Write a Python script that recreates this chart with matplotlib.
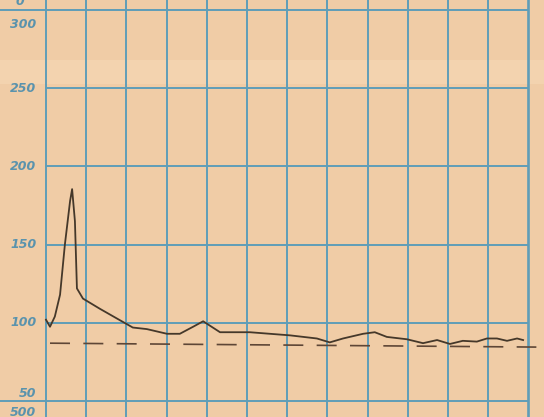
import matplotlib

matplotlib.use("Agg")
import matplotlib.pyplot as plt

# traced curve, x in grid squares from the left border
curve_x = [0, 0.1, 0.22, 0.35, 0.47, 0.6, 0.65, 0.72, 0.77, 0.92, 1.34, 1.92,
           2.16, 2.51, 3.01, 3.33, 3.66, 3.91, 4.03, 4.33, 5.07, 6.07, 6.74,
           7.06, 7.39, 7.89, 8.18, 8.48, 8.98, 9.38, 9.73, 10.05, 10.37,
           10.72, 10.97, 11.22, 11.47, 11.72, 11.87]
curve_y = [102, 97.5, 104, 118, 150, 178, 185.5, 165, 122, 115.5, 109, 100.5,
           97, 96, 93, 93, 97.5, 101, 99, 94, 94, 92, 90,
           87.5, 90, 93, 94, 91, 89.5, 87, 89, 86.5, 88.5,
           88, 90, 90, 88.5, 90, 89]

# dashed reference line (drawn slightly askew on the sheet)
ref_x = [0.1, 12.2]
ref_y = [87, 84.5]

y_ticks = [300, 250, 200, 150, 100, 50]
y_labels = ["300", "250", "200", "150", "100", "50"]
# where each number sits against its line (sheet offsets)
label_offset = [-9, 0, 0, 0, 0, 5]

paper = "#f0cca6"
grid_col = "#5f9db8"
ink = "#45382a"
label_col = "#5a93ad"

fig = plt.figure(figsize=(5.44, 4.17), dpi=100)
fig.patch.set_facecolor(paper)
ax = fig.add_axes([0, 0, 1, 1])
ax.set_facecolor(paper)
ax.set_xlim(-1.144, 12.39)
ax.set_ylim(39.8, 306.4)
ax.axis("off")

# faint lighter band across the top of the sheet
ax.axhspan(253, 268, color="#f3d3af", lw=0, zorder=0)

# graph paper grid
for i in range(13):
    lw = 1.9 if i == 12 else 1.4
    ax.axvline(i, color=grid_col, lw=lw, zorder=1)
for v in y_ticks:
    left = -1.144 if v in (300, 50) else 0
    ax.plot([left, 12], [v, v], color=grid_col, lw=1.4, zorder=1)

# axis numbers, written in italic by hand
for v, lab, off in zip(y_ticks, y_labels, label_offset):
    ax.text(-0.24, v + off, lab, color=label_col, fontsize=9, style="italic",
            weight="semibold", ha="right", va="center", zorder=2)
ax.text(-0.24, 42.5, "500", color=label_col, fontsize=9, style="italic",
        weight="semibold", ha="right", va="center", zorder=2)
ax.text(-0.55, 305.5, "0", color=label_col, fontsize=9, style="italic",
        weight="semibold", ha="right", va="center", zorder=2)

ax.plot(ref_x, ref_y, color="#5e4636", lw=1.2, dashes=(12, 8), zorder=3)
ax.plot(curve_x, curve_y, color=ink, lw=1.3, zorder=4)

fig.savefig("out.png", dpi=100, facecolor=paper)
